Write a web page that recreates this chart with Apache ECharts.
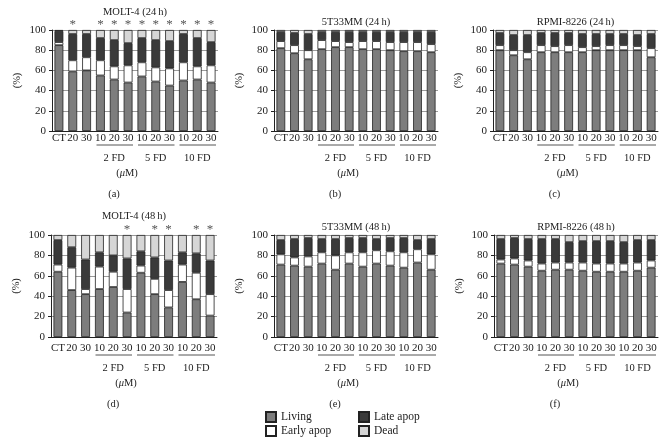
<!DOCTYPE html>
<html>
<head>
<meta charset="utf-8">
<script src="https://cdn.jsdelivr.net/npm/echarts@6/dist/echarts.min.js"></script>
<style>
html,body{margin:0;padding:0;background:#fff;}
#c{width:671px;height:443px;}
</style>
</head>
<body>
<div id="c"></div>
<script>
// ---------- data ----------
const categories = ['CT','20','30','10','20','30','10','20','30','10','20','30'];
const groupLabels = ['', '2 FD', '5 FD', '10 FD'];
const yTicks = [0, 20, 40, 60, 80, 100];
const seriesNames = ['Living', 'Early apop', 'Late apop', 'Dead'];
const panelTitles = ['MOLT-4 (24\u2009h)', '5T33MM (24\u2009h)', 'RPMI-8226 (24\u2009h)',
                     'MOLT-4 (48\u2009h)', '5T33MM (48\u2009h)', 'RPMI-8226 (48\u2009h)'];
const panelLetters = ['(a)', '(b)', '(c)', '(d)', '(e)', '(f)'];

const molt24Living = [85, 59, 60, 55, 51, 48, 54, 49, 45, 50, 51, 48];
const molt24Early  = [3, 11, 13, 15, 13, 17, 14, 14, 17, 18, 13, 17];
const molt24Late   = [11, 26, 23, 22, 26, 22, 24, 27, 27, 28, 28, 23];
const molt24Dead   = [1, 4, 4, 8, 10, 13, 8, 10, 11, 4, 8, 12];
const molt24Sig    = [0, 1, 0, 1, 1, 1, 1, 1, 1, 1, 1, 1];

const t33_24Living = [82, 77, 71, 81, 83, 83, 81, 81, 80, 79, 79, 78];
const t33_24Early  = [7, 8, 9, 9, 6, 5, 8, 8, 8, 9, 9, 8];
const t33_24Late   = [9, 12, 16, 8, 9, 10, 9, 9, 10, 10, 10, 12];
const t33_24Dead   = [2, 3, 4, 2, 2, 2, 2, 2, 2, 2, 2, 2];

const rpmi24Living = [80, 75, 71, 78, 78, 78, 78, 80, 80, 80, 80, 73];
const rpmi24Early  = [5, 5, 7, 7, 6, 7, 5, 4, 5, 5, 4, 9];
const rpmi24Late   = [12, 15, 17, 12, 13, 12, 13, 12, 11, 11, 11, 14];
const rpmi24Dead   = [3, 5, 5, 3, 3, 3, 4, 4, 4, 4, 5, 4];

const molt48Living = [64, 46, 42, 47, 49, 24, 63, 42, 29, 54, 37, 21];
const molt48Early  = [7, 22, 5, 22, 15, 23, 7, 15, 17, 17, 26, 21];
const molt48Late   = [24, 20, 29, 14, 16, 30, 14, 21, 29, 12, 19, 33];
const molt48Dead   = [5, 12, 24, 17, 20, 23, 16, 22, 25, 17, 18, 25];
const molt48Sig    = [0, 0, 0, 0, 0, 1, 0, 1, 1, 0, 1, 1];

const t33_48Living = [71, 70, 69, 72, 66, 72, 69, 72, 70, 68, 73, 66];
const t33_48Early  = [10, 8, 10, 11, 14, 11, 14, 13, 14, 15, 13, 15];
const t33_48Late   = [14, 18, 18, 13, 16, 14, 14, 11, 13, 14, 9, 15];
const t33_48Dead   = [5, 4, 3, 4, 4, 3, 3, 4, 3, 3, 5, 4];

const rpmi48Living = [72, 71, 69, 65, 66, 66, 65, 64, 64, 64, 65, 68];
const rpmi48Early  = [4, 6, 6, 7, 7, 7, 8, 8, 8, 8, 8, 7];
const rpmi48Late   = [20, 20, 21, 24, 23, 20, 21, 22, 22, 21, 22, 20];
const rpmi48Dead   = [4, 3, 4, 4, 4, 7, 6, 6, 6, 7, 5, 5];

const panelData = [
  [molt24Living, molt24Early, molt24Late, molt24Dead, molt24Sig],
  [t33_24Living, t33_24Early, t33_24Late, t33_24Dead, null],
  [rpmi24Living, rpmi24Early, rpmi24Late, rpmi24Dead, null],
  [molt48Living, molt48Early, molt48Late, molt48Dead, molt48Sig],
  [t33_48Living, t33_48Early, t33_48Late, t33_48Dead, null],
  [rpmi48Living, rpmi48Early, rpmi48Late, rpmi48Dead, null]
];

// ---------- layout / style ----------
const FONT = '"Liberation Serif", "DejaVu Serif", serif';
const colors = ['#7d7d7d', '#ffffff', '#3a3a3a', '#d6d6d6'];
const layout = [
  {left: 52,  top: 30,  width: 166, height: 101, titleY: 7,   lo: 0},
  {left: 274, top: 30,  width: 164, height: 101, titleY: 17,  lo: 0},
  {left: 493, top: 30,  width: 165, height: 101, titleY: 17,  lo: 0},
  {left: 51,  top: 235, width: 166, height: 102, titleY: 211, lo: 4},
  {left: 274, top: 235, width: 164, height: 102, titleY: 222, lo: 4},
  {left: 494, top: 235, width: 164, height: 102, titleY: 222, lo: 4}
];

const grids = [], xAxes = [], yAxes = [], series = [], titles = [];
layout.forEach((L, i) => {
  grids.push({left: L.left, top: L.top, width: L.width, height: L.height, containLabel: false});
  xAxes.push({
    type: 'category', gridIndex: i, data: categories,
    axisLine: {lineStyle: {color: '#222', width: 1}},
    axisTick: {show: false},
    axisLabel: {fontFamily: FONT, fontSize: 11, color: '#222', margin: 2 + L.lo, interval: 0}
  });
  xAxes.push({
    type: 'category', gridIndex: i, data: groupLabels, position: 'bottom', offset: 18 + L.lo,
    axisLine: {show: false}, axisTick: {show: false}, splitLine: {show: false},
    axisLabel: {fontFamily: FONT, fontSize: 10.5, color: '#222', margin: 4, interval: 0}
  });
  yAxes.push({
    type: 'value', gridIndex: i, min: yTicks[0], max: yTicks[yTicks.length - 1], interval: 20,
    name: '(%)', nameLocation: 'middle', nameGap: 29, nameRotate: 90,
    nameTextStyle: {fontFamily: FONT, fontSize: 10.5, color: '#222'},
    axisLine: {show: true, lineStyle: {color: '#222', width: 1}},
    axisTick: {show: true, length: 3, lineStyle: {color: '#222'}},
    axisLabel: {fontFamily: FONT, fontSize: 11, color: '#222', margin: 6},
    splitLine: {show: true, lineStyle: {color: '#9a9a9a', width: 1}}
  });
  const D = panelData[i];
  for (let s = 0; s < 4; s++) {
    const sig = D[4];
    const ser = {
      name: seriesNames[s], type: 'bar', stack: 'p' + i,
      xAxisIndex: i * 2, yAxisIndex: i,
      data: D[s], barWidth: '64%',
      itemStyle: {color: colors[s], borderColor: '#222', borderWidth: 0.8},
      emphasis: {disabled: true}, animation: false
    };
    if (s === 3 && sig) {
      ser.label = {
        show: true, position: 'top', distance: -1,
        formatter: p => sig[p.dataIndex] ? '*' : '',
        fontFamily: FONT, fontSize: 13, color: '#555'
      };
    }
    series.push(ser);
  }
  const cx = L.left + L.width / 2;
  const baseY = L.top + L.height;
  const tStyle = {fontFamily: FONT, fontSize: 10.5, fontWeight: 'normal', color: '#222'};
  titles.push({text: panelTitles[i], left: cx, top: L.titleY, textAlign: 'center', padding: 0,
    textStyle: tStyle});
  titles.push({text: '({i|\u03bc}M)', left: cx - 8, top: baseY + 37 + L.lo, textAlign: 'center', padding: 0,
    textStyle: Object.assign({}, tStyle,
      {rich: {i: {fontFamily: FONT, fontSize: 10.5, fontStyle: 'italic', color: '#222'}}})});
  titles.push({text: panelLetters[i], left: cx - 21, top: baseY + 58 + L.lo, textAlign: 'center', padding: 0,
    textStyle: tStyle});
});

const legendBase = {
  orient: 'vertical', itemWidth: 10, itemHeight: 10, itemGap: 2, padding: 0,
  icon: 'rect', selectedMode: false,
  textStyle: {fontFamily: FONT, fontSize: 11.5, color: '#222'}
};

const chart = echarts.init(document.getElementById('c'), null, {renderer: 'canvas'});
chart.setOption({
  animation: false,
  title: titles,
  grid: grids,
  xAxis: xAxes,
  yAxis: yAxes,
  legend: [
    Object.assign({}, legendBase, {left: 265, top: 411, data: ['Living', 'Early apop']}),
    Object.assign({}, legendBase, {left: 358, top: 411, data: ['Late apop', 'Dead']})
  ],
  series: series
});

// group underlines, positioned from the category axis scale
const graphics = [];
layout.forEach((L, i) => {
  const band = L.width / categories.length;
  const yLine = L.top + L.height + 14 + L.lo;
  for (let g = 1; g < groupLabels.length; g++) {
    const first = chart.convertToPixel({xAxisIndex: i * 2}, g * 3);
    const last = chart.convertToPixel({xAxisIndex: i * 2}, g * 3 + 2);
    graphics.push({
      type: 'line', silent: true,
      shape: {x1: first - band / 2 + 3, y1: yLine, x2: last + band / 2 - 2, y2: yLine},
      style: {stroke: '#555', lineWidth: 1}
    });
  }
});
chart.setOption({graphic: graphics});
</script>
</body>
</html>
